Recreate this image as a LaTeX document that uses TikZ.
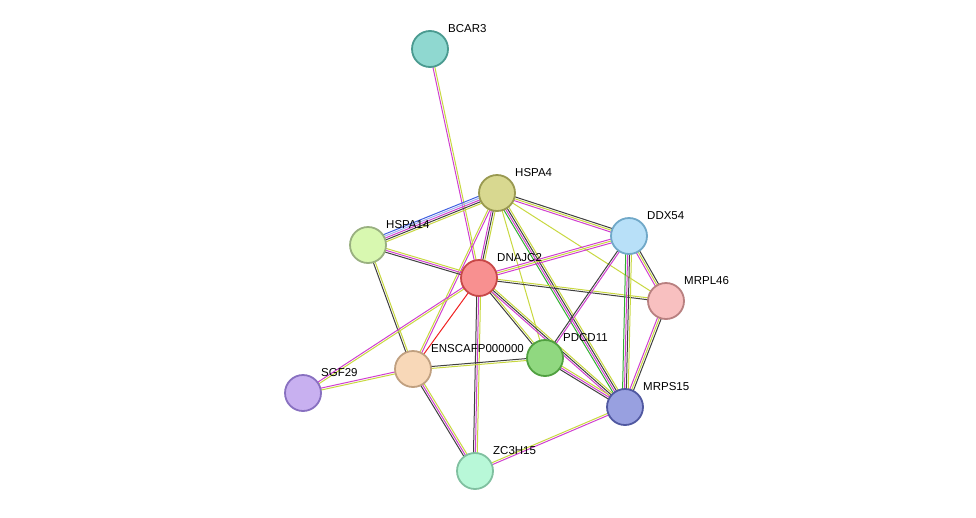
\documentclass[tikz,border=0pt]{standalone}
\usepackage{fontspec}
\setmainfont{Liberation Sans}
\usetikzlibrary{calc}
\definecolor{ey}{HTML}{C8D840}
\definecolor{em}{HTML}{D040D0}
\definecolor{ek}{HTML}{404040}
\definecolor{eb}{HTML}{4060E0}
\definecolor{eg}{HTML}{30B030}
\definecolor{er}{HTML}{F02020}
\newcommand\edg[4]{\foreach \c [count=\i] in {#4} {\pgfmathsetmacro\o{(\i-(#3+1)/2)*1.9}
 \draw[\c,line width=1pt] ($(#1)!\o pt!90:(#2)$) -- ($(#2)!\o pt!-90:(#1)$);}}
\tikzset{prot/.style={circle,minimum size=36pt,line width=1.8pt,inner sep=0pt},
 lab/.style={font=\fontsize{11.5}{13}\selectfont,anchor=south west,inner sep=1pt}}
\begin{document}
\begin{tikzpicture}[x=1pt,y=-1pt]
\useasboundingbox (0,0) rectangle (976,517);
\coordinate (BCAR3) at (430,49);
\coordinate (HSPA4) at (497,193);
\coordinate (HSPA14) at (368,245);
\coordinate (DDX54) at (629,236);
\coordinate (DNAJC2) at (479,278);
\coordinate (MRPL46) at (666,301);
\coordinate (PDCD11) at (545,358);
\coordinate (ENS) at (413,369);
\coordinate (SGF29) at (303,393);
\coordinate (MRPS15) at (625,407);
\coordinate (ZC3H15) at (475,471);
\edg{BCAR3}{DNAJC2}{2}{em,ey}
\edg{HSPA4}{HSPA14}{5}{eb,eb!50,em,ek,ey}
\edg{HSPA4}{DNAJC2}{3}{em,ek,ey}
\edg{HSPA4}{DDX54}{3}{em,ey,ek}
\edg{HSPA4}{MRPL46}{1}{ey}
\edg{HSPA4}{MRPS15}{4}{eg,em,ek,ey}
\edg{HSPA4}{PDCD11}{1}{ey}
\edg{HSPA4}{ENS}{2}{ey,em}
\edg{HSPA14}{DNAJC2}{3}{ek,em,ey}
\edg{HSPA14}{ENS}{2}{ek,ey}
\edg{DNAJC2}{DDX54}{3}{em,ey,em}
\edg{DNAJC2}{MRPL46}{2}{ek,ey}
\edg{DNAJC2}{PDCD11}{2}{ek,ey}
\edg{DNAJC2}{MRPS15}{3}{em,ek,ey}
\edg{DNAJC2}{ENS}{1}{er}
\edg{DNAJC2}{SGF29}{2}{em,ey}
\edg{DNAJC2}{ZC3H15}{3}{ek,em,ey}
\edg{DDX54}{MRPL46}{3}{em,ey,ek}
\edg{DDX54}{PDCD11}{2}{ek,em}
\edg{DDX54}{MRPS15}{4}{eg,em,ek,ey}
\edg{MRPL46}{MRPS15}{3}{em,ey,ek}
\edg{PDCD11}{MRPS15}{3}{ek,em,ey}
\edg{PDCD11}{ENS}{2}{ek,ey}
\edg{ENS}{SGF29}{2}{em,ey}
\edg{ENS}{ZC3H15}{3}{ek,em,ey}
\edg{ZC3H15}{MRPS15}{2}{em,ey}
\node[prot,fill={rgb,255:red,143;green,216;blue,208},draw={rgb,255:red,74;green,154;blue,144}] (nBCAR3) at (BCAR3) {};
\node[prot,fill={rgb,255:red,216;green,216;blue,144},draw={rgb,255:red,153;green,153;blue,80}] (nHSPA4) at (HSPA4) {};
\node[prot,fill={rgb,255:red,216;green,248;blue,176},draw={rgb,255:red,153;green,176;blue,128}] (nHSPA14) at (HSPA14) {};
\node[prot,fill={rgb,255:red,184;green,224;blue,248},draw={rgb,255:red,112;green,168;blue,200}] (nDDX54) at (DDX54) {};
\node[prot,fill={rgb,255:red,248;green,144;blue,144},draw={rgb,255:red,200;green,72;blue,72}] (nDNAJC2) at (DNAJC2) {};
\node[prot,fill={rgb,255:red,248;green,192;blue,192},draw={rgb,255:red,184;green,128;blue,128}] (nMRPL46) at (MRPL46) {};
\node[prot,fill={rgb,255:red,144;green,216;blue,128},draw={rgb,255:red,80;green,160;blue,64}] (nPDCD11) at (PDCD11) {};
\node[prot,fill={rgb,255:red,248;green,216;blue,184},draw={rgb,255:red,192;green,160;blue,128}] (nENS) at (ENS) {};
\node[prot,fill={rgb,255:red,200;green,176;blue,240},draw={rgb,255:red,136;green,112;blue,192}] (nSGF29) at (SGF29) {};
\node[prot,fill={rgb,255:red,152;green,160;blue,224},draw={rgb,255:red,80;green,88;blue,160}] (nMRPS15) at (MRPS15) {};
\node[prot,fill={rgb,255:red,184;green,248;blue,216},draw={rgb,255:red,128;green,192;blue,160}] (nZC3H15) at (ZC3H15) {};
\node[lab] at (447,34) {BCAR3};
\node[lab] at (514,178) {HSPA4};
\node[lab] at (385,230) {HSPA14};
\node[lab] at (646,221) {DDX54};
\node[lab] at (496,263) {DNAJC2};
\node[lab] at (683,286) {MRPL46};
\node[lab] at (562,343) {PDCD11};
\node[lab] at (430,354) {ENSCAFP000000};
\node[lab] at (320,378) {SGF29};
\node[lab] at (642,392) {MRPS15};
\node[lab] at (492,456) {ZC3H15};
\end{tikzpicture}
\end{document}
